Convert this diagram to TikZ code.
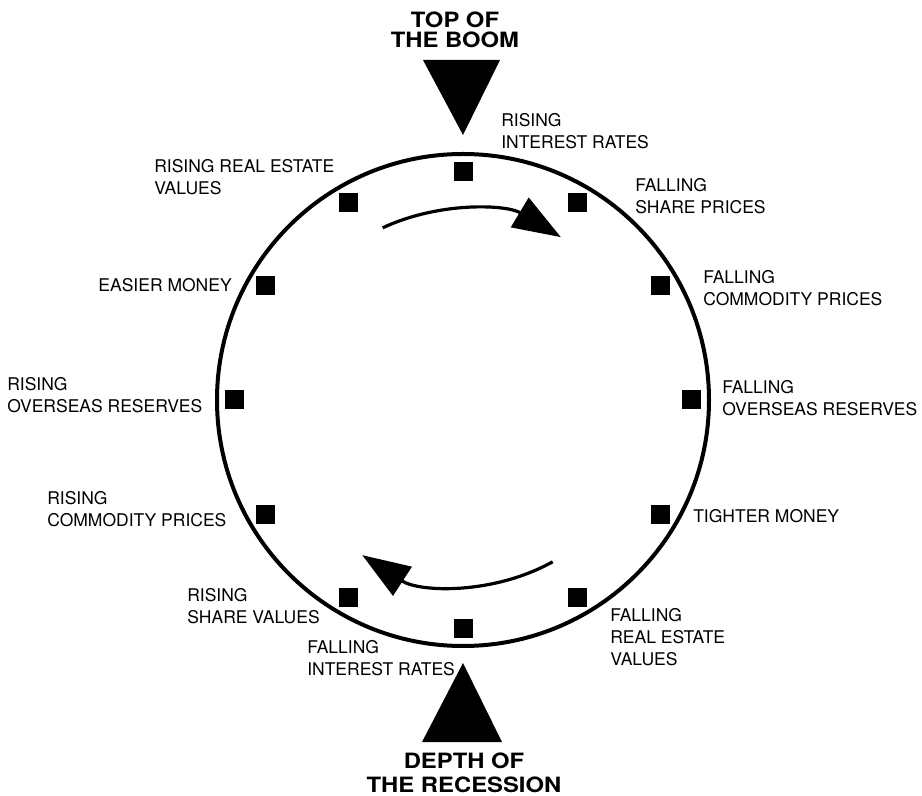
\documentclass[tikz,border=0pt]{standalone}
\usepackage{fontspec}
\setmainfont{TeX Gyre Heros}
\newfontfamily\headfont[FakeStretch=1.13]{TeX Gyre Heros}
\usepackage{tikz}
\usetikzlibrary{arrows.meta}

\begin{document}
\begin{tikzpicture}[
    x=0.25mm, y=0.25mm,
    marker/.style={rectangle,fill=black,minimum size=4.75mm,inner sep=0pt},
    lbl/.style={inner sep=0pt,align=left,font=\fontsize{12.45}{15.6}\selectfont},
    ttl/.style={inner sep=0pt,align=center},
    rim/.style={line width=1mm},
    turn/.style={-{Triangle[length=12mm,width=8.5mm]},line width=0.8mm},
]
\useasboundingbox (-463,-396) rectangle (459,400);

% =====================================================================
%  the cycle: ring, twelve stations, direction of travel
% =====================================================================
\coordinate (hub) at (0,0);
\draw[rim] (hub) circle[radius=246];

\foreach \a in {0,30,...,330}
   \node[marker] (m\a) at (\a:228) {};

\draw[turn] (115:190) arc[start angle=115,end angle=59,radius=190];
\draw[turn] (-61:185) arc[start angle=-61,end angle=-123,radius=185];

% =====================================================================
%  station labels (clockwise from the top)
% =====================================================================
\node[lbl,anchor=north west] (l90)  at (38,287)    {RISING\\INTEREST RATES};
\node[lbl,anchor=north west] (l60)  at (172,222)   {FALLING\\SHARE PRICES};
\node[lbl,anchor=north west] (l30)  at (240,130)   {FALLING\\COMMODITY PRICES};
\node[lbl,anchor=north west] (l0)   at (259,20)    {FALLING\\OVERSEAS RESERVES};
\node[lbl,anchor=north west] (l330) at (230,-109)  {TIGHTER MONEY};
\node[lbl,anchor=north west] (l300) at (147,-208)  {FALLING\\REAL ESTATE\\VALUES};
\node[lbl,anchor=north west] (l270) at (-156,-240) {FALLING\\INTEREST RATES};
\node[lbl,anchor=north west] (l240) at (-276,-188) {RISING\\SHARE VALUES};
\node[lbl,anchor=north west] (l210) at (-416,-91)  {RISING\\COMMODITY PRICES};
\node[lbl,anchor=north west] (l180) at (-456,23)   {RISING\\OVERSEAS RESERVES};
\node[lbl,anchor=north east] (l150) at (-231,122)  {EASIER MONEY};
\node[lbl,anchor=north west] (l120) at (-309,241)  {RISING REAL ESTATE\\VALUES};

% =====================================================================
%  turning points
% =====================================================================
\node[ttl,anchor=north,font=\headfont\bfseries\fontsize{15}{14.2}\selectfont]
     (boom) at (-8,388) {TOP OF\\THE BOOM};
\fill (-40,340) -- (37,340) -- (0,265) -- cycle;

\node[ttl,anchor=north,font=\headfont\bfseries\fontsize{15}{17}\selectfont]
     (slump) at (1,-353) {DEPTH OF\\THE RECESSION};
\fill (0,-263) -- (39,-342) -- (-41,-342) -- cycle;

\end{tikzpicture}
\end{document}
